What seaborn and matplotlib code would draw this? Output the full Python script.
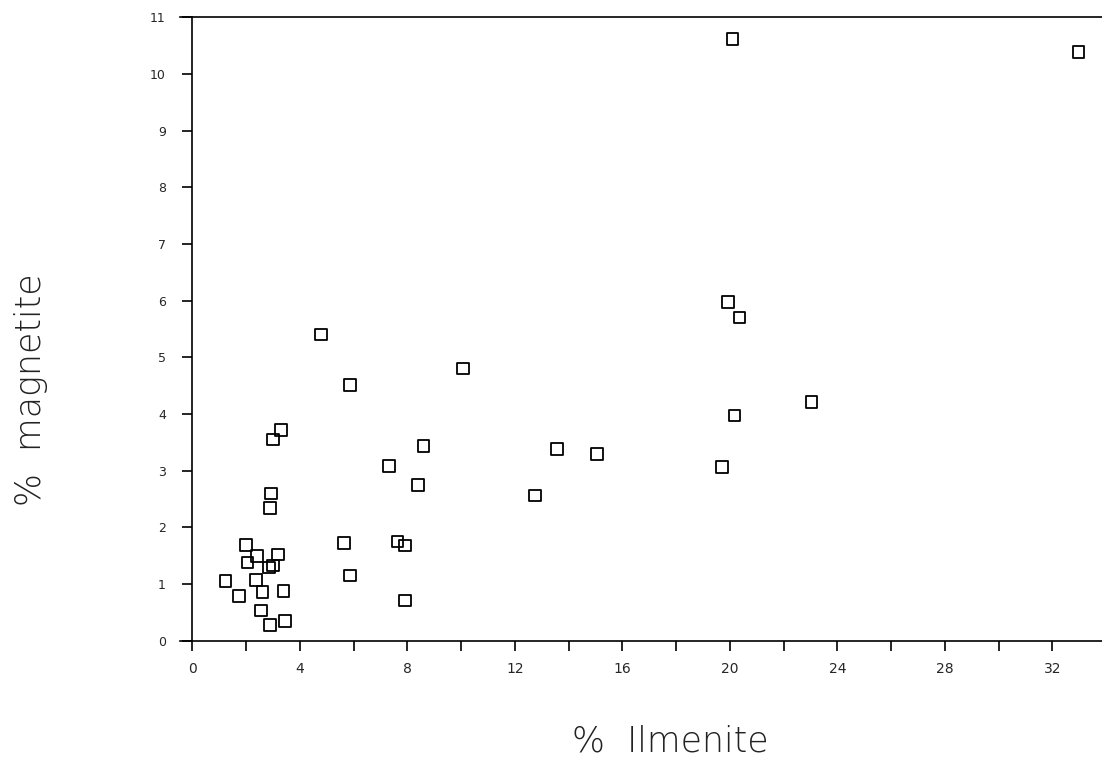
import matplotlib
matplotlib.use("Agg")
import matplotlib.pyplot as plt
import seaborn as sns
import pandas as pd
from matplotlib.ticker import MultipleLocator

ilmenite = [3.30, 3.01, 2.92, 2.89, 2.01, 2.40, 3.18, 2.06, 3.01, 2.85, 1.24, 2.38, 1.74,
            2.62, 3.40, 2.56, 2.89, 3.46, 8.60, 7.33, 8.41, 5.65, 7.63, 7.92, 5.88, 7.92,
            4.79, 10.07, 5.87, 13.56, 15.07, 12.75, 19.93, 20.36, 23.04, 20.17, 19.70,
            32.97, 20.10]
magnetite = [3.72, 3.55, 2.60, 2.34, 1.69, 1.50, 1.52, 1.38, 1.33, 1.29, 1.05, 1.07, 0.79,
             0.86, 0.88, 0.53, 0.28, 0.35, 3.44, 3.08, 2.75, 1.72, 1.75, 1.68, 1.15, 0.71,
             5.40, 4.80, 4.51, 3.38, 3.29, 2.56, 5.97, 5.70, 4.21, 3.97, 3.06,
             10.38, 10.61]
x_ticks = [0, 4, 8, 12, 16, 20, 24, 28, 32]
y_ticks = list(range(0, 12))

df = pd.DataFrame({"ilmenite": ilmenite, "magnetite": magnetite})

sns.set_style("white")
plt.rcParams['font.family'] = ['DejaVu Sans']

fig = plt.figure(figsize=(11.02, 7.79), dpi=100)
ax = fig.add_axes([0.1635, 0.1775, 0.8365, 0.8005])

sns.scatterplot(data=df, x="ilmenite", y="magnetite", ax=ax, marker="s", s=70,
                facecolor="none", edgecolor="black", linewidth=1.3)

ax.set_xlim(-0.45, 33.85)
ax.set_ylim(0, 11)
ax.spines['left'].set_position(('data', 0))
ax.spines['right'].set_visible(False)
for sp in ['left', 'bottom', 'top']:
    ax.spines[sp].set_color('black')
    ax.spines[sp].set_linewidth(1.2)

ax.set_xticks(x_ticks)
ax.set_xticklabels([str(v) for v in x_ticks])
ax.xaxis.set_minor_locator(MultipleLocator(2))
ax.set_yticks(y_ticks)
ax.set_yticklabels([str(v) for v in y_ticks])
ax.tick_params(axis='x', which='both', direction='out', length=7, width=1.2,
               color='black', labelsize=10, pad=8, bottom=True)
ax.tick_params(axis='y', which='both', direction='out', length=7, width=1.2,
               color='black', labelsize=9, pad=12, left=True)
ax.set_xlabel("")
ax.set_ylabel("")

fig.text(0.608, 0.048, "%  Ilmenite", fontsize=25, fontweight='light',
         ha='center', va='center', color='#222222')
fig.text(0.028, 0.50, "%  magnetite", fontsize=25, fontweight='light',
         ha='center', va='center', rotation=90, color='#222222')

fig.savefig("out.png", dpi=100, facecolor="white")
